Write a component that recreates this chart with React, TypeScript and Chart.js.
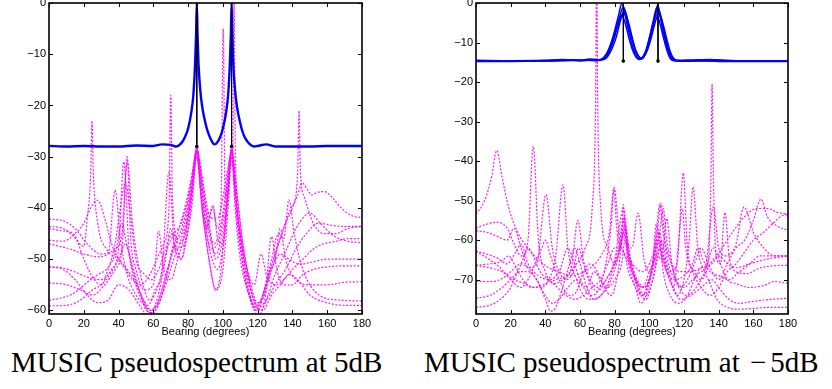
import React, { useEffect, useRef } from "react";
import { Chart, registerables } from "chart.js";

Chart.register(...registerables);

// ---------- axes ----------
const xTicks = [0, 20, 40, 60, 80, 100, 120, 140, 160, 180];
const leftYTicks = [0, -10, -20, -30, -40, -50, -60];
const rightYTicks = [0, -10, -20, -30, -40, -50, -60, -70];
const leftYMin = -60.7;
const rightYMin = -78.7;
const xTitle = "Bearing (degrees)";
const captionLeft = "MUSIC pseudospectrum at 5dB";
const captionRightHead = "MUSIC pseudospectrum at";
const captionRightSign = "\u2212";
const captionRightTail = "5dB";

// true bearings
const trueBearings = [85, 105];
const leftTrueFloor = -28;
const rightTrueFloor = -14.7;

// ---------- left panel (5 dB) : blue average spectrum ----------
const leftBlue = [0,-27.9, 10,-28.0, 20,-27.9, 30,-28.0, 40,-28.0, 50,-27.8, 60,-27.9, 65,-27.6, 70,-27.7, 73,-28.0, 76,-27.4, 78,-26.3, 80,-24.5, 82,-21, 83,-18, 84,-12, 84.6,-6, 85,0, 85.4,-6, 86,-12, 87,-17, 88,-20, 90,-23.5, 92,-25.8, 94,-27.2, 95,-27.6, 96,-27.5, 98,-26.5, 100,-24.5, 102,-21, 103,-18, 104,-12, 104.6,-6, 105,0, 105.4,-6, 106,-12, 107,-17, 108,-20, 110,-23.5, 112,-25.8, 114,-27, 116,-27.7, 118,-28.0, 120,-27.9, 125,-27.6, 130,-28.0, 140,-28.0, 150,-28.0, 160,-27.9, 170,-27.9, 180,-27.9];

// ---------- left panel : magenta single-trial spectra ----------
const L1 = [0,-42.2, 8,-42.5, 15,-44, 22,-47, 30,-49, 38,-48, 42,-45, 45,-31, 48,-43, 52,-52, 58,-58, 63,-55, 68,-48, 72,-45, 76,-43, 80,-38, 83,-32, 85,-28.5, 87,-32, 90,-38, 93,-42, 97,-42, 101,-36, 104,-30, 105,-28, 106,-30, 108,-37, 111,-46, 115,-54, 119,-59, 123,-57, 128,-51, 133,-46, 138,-41, 143,-37.5, 145.5,-35.1, 148.8,-36.5, 151,-37.5, 154,-37, 158,-36.8, 163,-38, 168,-40, 174,-41.5, 180,-41.9];
const L2 = [0,-43.6, 8,-44, 14,-45.5, 20,-47.5, 22,-42, 24,-33, 24.7,-23, 25.5,-33, 28,-43, 33,-48, 40,-50, 47,-53, 53,-57, 58,-60, 63,-58, 68,-52, 73,-46, 78,-40, 82,-34, 85,-29, 88,-34, 91,-42, 95,-47, 99,-43, 102,-36, 105,-29, 108,-37, 112,-48, 116,-55, 120,-58.5, 124,-57, 128,-52, 132,-47, 136,-43, 140,-40, 143,-33, 143.8,-21, 144.6,-33, 147,-38, 152,-43, 158,-45, 165,-45, 172,-44, 180,-43.6];
const L3 = [0,-46.3, 8,-46.5, 15,-45, 20,-43, 24,-40, 28,-38.5, 32,-42, 36,-47, 40,-50, 44,-52, 48,-54, 53,-55, 58,-53, 62,-50, 66,-47, 69,-40, 70,-18, 71,-38, 74,-46, 78,-43, 82,-36, 85,-29, 88,-36, 92,-45, 96,-49, 100,-44, 103,-36, 105,-28.5, 107,-36, 110,-45, 114,-52, 118,-55, 122,-49, 125,-53, 130,-55, 135,-54, 140,-52, 146,-50, 152,-48, 158,-47, 165,-46.5, 172,-46, 180,-46];
const L4 = [0,-47, 6,-47.5, 12,-48, 20,-49, 28,-49.5, 34,-49, 38,-36.5, 41,-46, 45,-53, 50,-57, 55,-59, 60,-60, 64,-58, 68,-53, 72,-47, 76,-50, 80,-44, 83,-35, 85,-28, 87,-36, 90,-44, 94,-40, 97,-44, 99,-38, 100.2,-5, 101.3,-38, 103,-34, 105,-29, 107,-37, 110,-46, 114,-53, 118,-58, 122,-60, 126,-57, 130,-53, 134,-50, 138,-47, 142,-44, 146,-42, 150,-41, 156,-43, 164,-45.5, 172,-46.5, 180,-46.8];
const L5 = [0,-51.5, 8,-51.7, 15,-52.5, 22,-53.5, 30,-54, 36,-52, 40,-48, 43,-31, 46,-48, 50,-55, 55,-59, 58,-60.5, 62,-59, 66,-55, 70,-50, 74,-46, 78,-42, 82,-35, 85,-28, 88,-35, 92,-43, 96,-50, 100,-46, 103,-37, 105,-28.5, 105.6,-30, 106.4,0, 107.2,-30, 110,-45, 115,-56, 120,-61, 124,-58, 128,-45.6, 131,-52, 135,-55, 140,-55, 146,-53, 152,-52, 160,-51.5, 170,-51.3, 180,-51.3];
const L6 = [0,-54.6, 10,-55, 18,-56, 25,-57, 32,-55, 38,-52, 42,-48, 45,-30, 47,-46, 50,-52, 55,-56, 60,-55, 63,-44.5, 66,-52, 70,-54, 74,-50, 78,-45, 82,-36, 85,-28.5, 88,-37, 91,-44, 94.3,-39.5, 97,-46, 100,-47, 103,-37, 105,-28.5, 107,-37, 111,-50, 115,-57, 119,-60, 122,-58, 126,-53, 130,-50, 133,-44, 136,-50, 142,-54, 150,-55, 160,-55, 170,-54.5, 180,-54.4];
const L7 = [0,-58, 8,-57.5, 15,-56.5, 22,-54.5, 28,-53, 33,-52, 38,-49, 42,-43, 44,-46, 48,-52, 53,-57, 57,-59, 61,-56, 65,-52, 69,-33, 72,-47, 76,-50, 80,-42, 83,-34, 85,-29, 87,-34, 90,-43, 93,-49, 97,-52, 101,-45, 103,-37, 105,-29, 107,-37, 111,-50, 116,-58, 120,-60, 124,-56, 128,-50, 132,-45, 135,-46, 138,-38.4, 141,-45, 145,-51, 150,-55, 158,-57.5, 168,-58, 180,-58.2];
const L8 = [0,-59.1, 10,-59, 18,-58, 25,-56, 30,-55, 35,-53, 40,-50, 44,-47, 47,-50, 52,-56, 56,-60, 60,-60.5, 65,-57, 70,-52, 74,-48, 78,-47, 82,-40, 85,-30, 88,-40, 92,-50, 96,-56, 100,-52, 103,-40, 105,-30, 107,-40, 110,-50, 114,-56, 118,-59, 123,-60, 128,-57, 133,-55, 138,-53, 143,-54, 150,-57, 160,-58.5, 170,-59, 180,-59];
const L9 = [0,-44, 8,-44.5, 14,-45, 20,-50, 26,-54, 30,-55, 34,-52, 38,-47, 41,-40, 44,-35, 47,-42, 50,-50, 55,-53, 59,-54, 63,-52, 67,-48, 71,-45, 75,-47, 79,-44, 83,-35, 85,-29, 87,-36, 90,-44, 93,-48, 97,-47, 101,-40, 105,-29, 108,-40, 112,-50, 116,-56, 120,-59, 124,-56, 128,-52, 133,-49, 138,-50, 144,-51, 152,-50.5, 160,-50, 170,-50, 180,-50];
const L10 = [0,-51.5, 8,-52, 15,-54, 22,-57, 28,-58.5, 34,-58, 40,-55, 46,-56, 52,-59, 57,-61, 62,-58, 67,-50, 70,-44, 73,-48, 77,-45, 81,-40, 85,-30, 88,-40, 92,-50, 96,-56, 99,-52, 102,-40, 105,-30, 108,-42, 112,-52, 116,-58, 120,-59.5, 125,-58, 130,-55, 136,-52, 142,-48, 148,-45, 155,-43, 165,-43.5, 172,-43.6, 180,-43.6];
const leftMagenta = [L1, L2, L3, L4, L5, L6, L7, L8, L9, L10];

// ---------- right panel (-5 dB) : blue spectra ----------
const RB1 = [0,-14.6, 10,-14.7, 20,-14.7, 30,-14.6, 40,-14.6, 50,-14.5, 55,-14.4, 60,-14.6, 64,-14.3, 67,-14.4, 70,-14.5, 72,-14.4, 74,-14.0, 76,-13.0, 78,-11.2, 80,-8.5, 82,-5, 83.5,-2.5, 85,-1, 86.5,-2.5, 88,-5.5, 90,-9, 92,-12, 94,-13.7, 95,-14, 96,-13.7, 98,-12, 100,-8.8, 102,-5.5, 103.5,-3, 105,-1.5, 106.5,-3, 108,-6, 110,-10, 112,-13, 114,-14.3, 116,-14.6, 120,-14.6, 130,-14.5, 135,-14.4, 140,-14.6, 150,-14.7, 160,-14.7, 170,-14.7, 180,-14.7];
const RB2 = [0,-14.8, 20,-14.8, 40,-14.7, 55,-14.5, 62,-14.6, 68,-14.4, 72,-14.3, 74,-13.6, 76,-12.2, 78,-10, 80,-7, 82,-3.5, 84.3,0, 86,-3, 88,-7, 90,-10.5, 92,-13, 94,-14.2, 96,-14.0, 98,-12.3, 100,-9, 102,-5, 104.5,-1, 106.5,-4, 108,-7, 110,-10.8, 112,-13.5, 114,-14.5, 118,-14.7, 130,-14.6, 140,-14.8, 160,-14.8, 180,-14.8];
const RB3 = [0,-14.5, 20,-14.6, 40,-14.5, 50,-14.3, 60,-14.5, 66,-14.2, 72,-14.4, 75,-14, 77,-12.8, 79,-11, 81,-8.5, 83,-5, 85.5,-2, 88,-5, 90,-8.5, 92,-11.8, 94,-13.5, 95.5,-13.9, 97,-13.5, 99,-11.8, 101,-9, 103,-5.5, 105.5,-2.5, 108,-5.5, 110,-9, 112,-12.2, 114,-14, 116,-14.5, 125,-14.4, 135,-14.3, 145,-14.6, 160,-14.6, 180,-14.6];
const RB4 = [0,-14.7, 30,-14.7, 50,-14.6, 64,-14.5, 70,-14.6, 73,-14.2, 75,-13.2, 77,-11.5, 79,-9, 81,-6.5, 84,-3, 86,-5, 88,-8.5, 90,-11.5, 92,-13.5, 94,-14.3, 96,-14.1, 98,-12.5, 100,-9.5, 102,-6, 104,-3, 106,-5, 108,-8.5, 110,-11.8, 112,-14, 114,-14.6, 130,-14.7, 180,-14.7];
const RB5 = [0,-14.6, 25,-14.6, 45,-14.5, 58,-14.4, 66,-14.5, 71,-14.4, 74,-13.9, 76,-12.8, 78,-10.8, 80,-8.2, 82,-5.3, 85.2,-2.5, 87,-4.2, 89,-7.5, 91,-10.6, 93,-13, 95,-14, 97,-13.4, 99,-11.3, 101,-8, 103,-4.2, 104.8,-0.5, 106.5,-3.5, 108,-6.8, 110,-10.5, 112,-13.3, 114,-14.4, 120,-14.6, 138,-14.4, 150,-14.6, 180,-14.6];
const rightBlue = [RB1, RB2, RB3, RB4, RB5];

// ---------- right panel : magenta single-trial spectra ----------
const R1 = [0,-53.4, 5,-50, 9,-44, 12,-37.3, 15,-44, 19,-52, 24,-58, 30,-62, 36,-65, 42,-67, 48,-68, 54,-69, 60,-68.5, 66,-67, 72,-64, 77,-58, 79.6,-46.7, 83,-60, 86,-64, 90,-66, 96,-68, 100,-66, 104,-60, 106.8,-50.7, 109,-60, 113,-66, 118,-68, 124,-68, 130,-67, 136,-66, 142,-62, 148,-58, 155,-54, 162,-52, 168,-52, 174,-53, 180,-53.4];
const R2 = [0,-57, 6,-56, 12,-55.5, 18,-57, 22,-61, 26,-64, 30,-60, 33,-36.2, 36,-60, 40,-68, 45,-71, 50,-70, 55,-67, 58.8,-55, 62,-65, 66,-70, 70,-72, 75,-70, 80,-65, 85,-52, 88,-62, 92,-70, 96,-74, 100,-70, 104,-64, 106,-58, 108,-64, 112,-70, 116,-74, 120,-70, 123,-60, 125.2,-46.5, 128,-62, 132,-67, 137,-51.5, 140,-62, 144,-64, 150,-61, 154.6,-51.6, 160,-58, 166,-62, 172,-64, 180,-64];
const R3 = [0,-57.6, 6,-58, 12,-59, 18,-60, 21.9,-57, 26,-62, 30,-67, 35,-66, 40.4,-48.5, 44,-62, 48,-68, 52,-70, 56,-68, 59,-62, 62,-66, 66,-71, 70,-73, 75,-70, 80,-66, 84,-60, 85.5,-54, 87,-60, 90,-62, 93.5,-53.2, 97,-65, 100,-68, 104,-62, 106,-58, 108,-52, 110,-60, 114,-68, 118,-72, 122,-70, 126,-66, 130,-62, 134,-66, 140,-70, 145,-66, 150,-62, 155,-60, 160,-55, 164.4,-49.6, 168,-54, 174,-56.5, 180,-57.5];
const R4 = [0,-62.8, 6,-63.5, 12,-64.5, 18,-66, 23,-63, 26,-61, 30,-66, 36,-69, 42,-70, 48,-68, 53,-62, 56,-65, 60,-70, 64,-72, 68,-68, 72,-70, 76,-72, 80,-70, 84,-66, 86,-60, 88,-65, 92,-70, 96,-72, 100,-68, 104,-64, 106,-62, 108,-64, 112,-68, 116,-66, 119.6,-43, 122,-62, 126,-68, 130,-70, 135,-66, 140,-64, 145,-66, 150,-67, 158,-66, 166,-65, 172,-64.5, 180,-64];
const R5 = [0,-66.4, 8,-66, 14,-65.5, 19,-64, 22,-66, 27,-70, 32,-72, 37,-72, 42,-70, 46,-64, 50.2,-46, 53,-62, 58,-70, 62,-74, 66,-75, 72,-74, 78,-70, 82,-64, 85,-55, 88,-64, 93,-70, 97,-72, 101,-68, 104,-58, 106,-51, 108,-58, 111,-66, 115,-70, 120,-72, 125,-70, 130,-68, 134,-65, 135.5,-45, 136.2,-20.5, 137,-45, 138.5,-64, 141,-66, 143.6,-53, 146,-64, 150,-68, 156,-68.5, 164,-67, 172,-66.5, 180,-66.4];
const R6 = [0,-70.4, 8,-70.5, 14,-70, 20,-68, 26,-66, 30,-67, 35,-70, 40,-74, 44,-76, 48,-75, 53,-72, 58,-70, 62,-72, 66,-74, 70,-73, 74,-68, 78,-56, 79.6,-47, 81,-56, 83,-62, 86,-57, 89,-65, 93,-72, 98,-75, 102,-70, 105,-64, 107,-65, 110,-54.5, 113,-66, 117,-72, 122,-74, 127,-72, 132,-68, 137,-62, 141,-66, 145,-70, 150,-71, 158,-72, 166,-71.5, 172,-70.5, 180,-70.9];
const R7 = [0,-74.7, 8,-74, 15,-72, 20,-70, 25,-68, 30,-68, 35,-70, 40,-75, 43,-78, 46,-77, 50,-72, 54,-66, 57,-62, 60,-66, 64,-72, 68,-75, 72,-74, 77,-70, 81,-64, 84,-58, 85,-51, 86,-58, 90,-66, 94,-72, 98,-74, 102,-70, 105,-64, 107,-60, 110,-66, 114,-72, 118,-75, 124,-74, 130,-72, 136,-70, 140,-72, 146,-75, 152,-76, 160,-75.5, 170,-75, 180,-74.7];
const R8 = [0,-77, 8,-76.5, 14,-75, 20,-72, 24,-68, 28,-64, 30,-62, 33,-64, 37,-68, 42,-70, 47,-72, 52,-74, 57,-75, 62,-74, 67,-72, 72,-70, 76,-66, 80,-62, 84,-62, 86,-64, 88,-68, 92,-72, 95,-76, 98,-74, 102,-66, 104,-56, 106,-60, 108,-68, 112,-74, 117,-76, 122,-74, 126,-70, 130,-67, 134,-70, 139,-75, 145,-77, 152,-77.5, 160,-77.3, 170,-77, 180,-77];
const R9 = [0,-62.8, 8,-65, 14,-67, 20,-70, 26,-72, 30,-70, 34,-66, 38,-62, 40,-60, 43,-64, 48,-70, 54,-74, 58,-73, 62,-68, 66,-66, 70,-68, 74,-72, 78,-74, 82,-68, 85,-58, 88,-66, 92,-72, 96,-74, 100,-70, 103,-64, 105,-60, 107,-64, 110,-68, 114,-72, 117,-60, 119,-52, 121,-62, 125,-68, 130,-72, 135,-74, 140,-72, 145,-68, 150,-66, 155,-63, 160,-60, 166,-58, 172,-55.5, 176,-54, 180,-53.4];
const R10 = [0,-66.4, 8,-67, 15,-68, 22,-70, 28,-71, 34,-72, 40,-71, 46,-70, 52,-69, 58,-66, 63,-62, 67,-52, 69,-25, 69.6,10, 70.2,-25, 72,-52, 76,-62, 80,-66, 84,-60, 86,-56, 88,-64, 92,-70, 96,-72, 100,-70, 103,-64, 105,-58, 107,-63, 110,-68, 115,-70, 120,-69, 125,-66, 128,-62, 131,-65, 135,-68, 140,-69, 146,-70, 152,-68, 158,-66, 164,-64, 172,-64, 180,-64];
const rightMagenta = [R1, R2, R3, R4, R5, R6, R7, R8, R9, R10];

// ---------- helpers ----------
const toPoints = (arr: number[]) => {
  const pts: { x: number; y: number }[] = [];
  for (let i = 0; i < arr.length; i += 2) pts.push({ x: arr[i], y: arr[i + 1] });
  return pts;
};
const fmt = (v: number) => (v < 0 ? "\u2212" + Math.abs(v) : String(v));

const framePlugin = {
  id: "frameTicks",
  afterDatasetsDraw(chart: any) {
    const { ctx, chartArea: a, scales } = chart;
    const xs = scales.x;
    const ys = scales.y;
    ctx.save();
    ctx.strokeStyle = "#000";
    ctx.lineWidth = 1;
    ctx.beginPath();
    xs.ticks.forEach((t: any) => {
      const px = Math.round(xs.getPixelForValue(t.value)) + 0.5;
      ctx.moveTo(px, a.bottom);
      ctx.lineTo(px, a.bottom - 4);
      ctx.moveTo(px, a.top);
      ctx.lineTo(px, a.top + 4);
    });
    ys.ticks.forEach((t: any) => {
      const py = Math.round(ys.getPixelForValue(t.value)) + 0.5;
      ctx.moveTo(a.left, py);
      ctx.lineTo(a.left + 4, py);
      ctx.moveTo(a.right, py);
      ctx.lineTo(a.right - 4, py);
    });
    ctx.stroke();
    ctx.lineWidth = 1.6;
    ctx.strokeRect(a.left, a.top, a.right - a.left, a.bottom - a.top);
    ctx.restore();
  },
};

type PanelProps = {
  left: number;
  width: number;
  yMin: number;
  yTicks: number[];
  magenta: number[][];
  blue: number[][];
  blueWidth: number;
  floor: number;
};

const Y_AXIS_W = 40;

function Panel(p: PanelProps) {
  const ref = useRef<HTMLCanvasElement>(null);
  useEffect(() => {
    if (!ref.current) return;
    const datasets: any[] = [];
    trueBearings.forEach((b) => {
      datasets.push({
        data: [{ x: b, y: 0 }, { x: b, y: p.floor }],
        borderColor: "#000",
        backgroundColor: "#000",
        borderWidth: 1,
        pointRadius: [0, 1.8],
        pointBorderWidth: 0,
        order: 0,
      });
    });
    p.blue.forEach((c) => {
      datasets.push({
        data: toPoints(c),
        borderColor: "#0000ff",
        borderWidth: p.blueWidth,
        pointRadius: 0,
        cubicInterpolationMode: "monotone",
        order: 1,
      });
    });
    p.magenta.forEach((c) => {
      datasets.push({
        data: toPoints(c),
        borderColor: "rgba(255,0,255,0.9)",
        borderWidth: 1.2,
        borderDash: [2, 1.6],
        pointRadius: 0,
        cubicInterpolationMode: "monotone",
        order: 2,
      });
    });
    const chart = new Chart(ref.current, {
      type: "line",
      data: { datasets },
      plugins: [framePlugin],
      options: {
        animation: false,
        responsive: false,
        maintainAspectRatio: false,
        layout: { padding: { top: 23, right: 20, bottom: 0, left: 0 } },
        plugins: { legend: { display: false }, tooltip: { enabled: false } },
        scales: {
          x: {
            type: "linear",
            min: 0,
            max: 180,
            afterBuildTicks: (s: any) => {
              s.ticks = xTicks.map((v) => ({ value: v }));
            },
            afterFit: (s: any) => {
              s.height = 25;
            },
            grid: { drawOnChartArea: false, drawTicks: false },
            border: { display: false },
            ticks: {
              padding: 3,
              color: "#000",
              font: { family: "Liberation Sans", size: 11 },
              maxRotation: 0,
              autoSkip: false,
              callback: (v: any) => fmt(Number(v)),
            },
            title: {
              display: true,
              text: xTitle,
              color: "#000",
              font: { family: "Liberation Sans", size: 11 },
              padding: { top: 0, bottom: 0 },
            },
          },
          y: {
            type: "linear",
            min: p.yMin,
            max: 0,
            afterBuildTicks: (s: any) => {
              s.ticks = p.yTicks.map((v) => ({ value: v }));
            },
            afterFit: (s: any) => {
              s.width = Y_AXIS_W;
            },
            grid: { drawOnChartArea: false, drawTicks: false },
            border: { display: false },
            ticks: {
              padding: 3,
              color: "#000",
              font: { family: "Liberation Sans", size: 11 },
              autoSkip: false,
              callback: (v: any) => fmt(Number(v)),
            },
          },
        },
      },
    });
    return () => chart.destroy();
  }, []);
  return (
    <canvas
      ref={ref}
      width={p.width}
      height={359}
      style={{ position: "absolute", left: p.left, top: -20, width: p.width, height: 359 }}
    />
  );
}

const captionStyle: React.CSSProperties = {
  position: "absolute",
  top: 348,
  fontFamily: "'Liberation Serif', 'Times New Roman', serif",
  fontSize: 29,
  lineHeight: "29px",
  whiteSpace: "nowrap",
  color: "#000",
};

export default function App() {
  return (
    <div style={{ position: "absolute", left: 0, top: 0, width: 832, height: 389, overflow: "hidden", background: "#fff" }}>
      <Panel left={49 - Y_AXIS_W} width={313 + Y_AXIS_W + 20} yMin={leftYMin} yTicks={leftYTicks} magenta={leftMagenta} blue={[leftBlue]} blueWidth={2.4} floor={leftTrueFloor} />
      <Panel left={476 - Y_AXIS_W} width={312 + Y_AXIS_W + 20} yMin={rightYMin} yTicks={rightYTicks} magenta={rightMagenta} blue={rightBlue} blueWidth={1.5} floor={rightTrueFloor} />
      <div style={{ ...captionStyle, left: 11 }}>{captionLeft}</div>
      <div style={{ ...captionStyle, left: 424 }}>
        {captionRightHead + " "}
        <span style={{ margin: "0 4px 0 3px" }}>{captionRightSign}</span>
        {captionRightTail}
      </div>
    </div>
  );
}
